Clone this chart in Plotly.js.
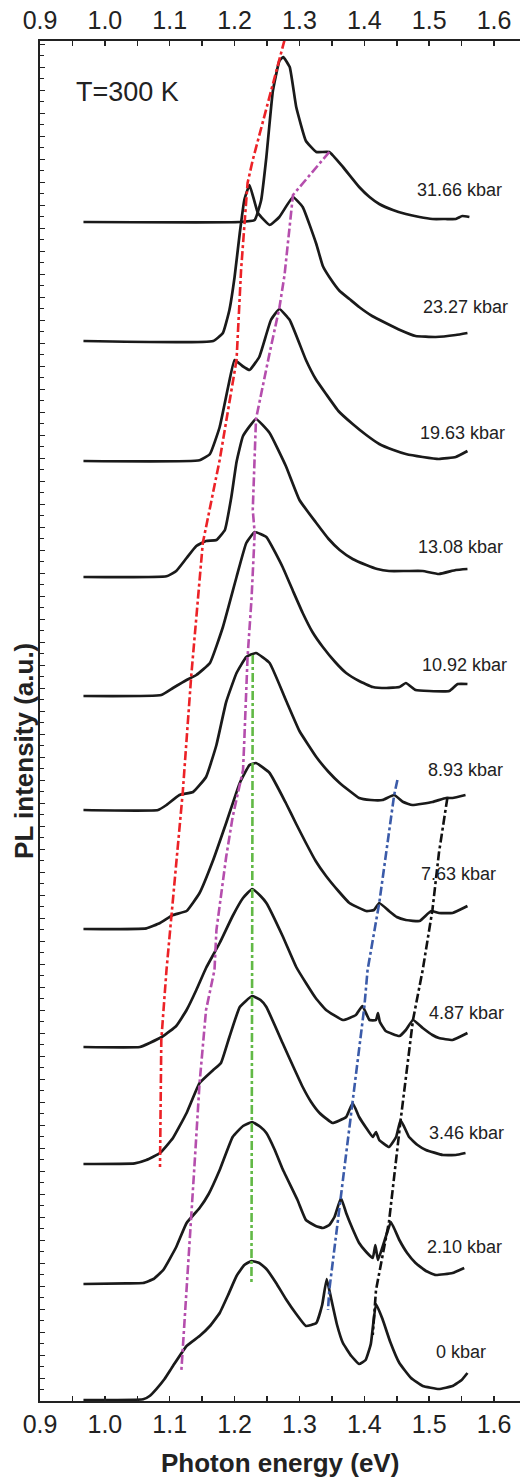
<!DOCTYPE html>
<html>
<head>
<meta charset="utf-8">
<script src="https://cdn.plot.ly/plotly-3.0.1.min.js"></script>
<style>html,body{margin:0;padding:0;background:#fff;}#chart{width:521px;height:1477px;}</style>
</head>
<body>
<div id="chart"></div>
<script>
// Pressure labels (bottom to top)
const pressures = ["0 kbar","2.10 kbar","3.46 kbar","4.87 kbar","7.63 kbar","8.93 kbar","10.92 kbar","13.08 kbar","19.63 kbar","23.27 kbar","31.66 kbar"];
// vertical offsets of each spectrum (a.u.)
const offsets = [1,117,237,354,472,591,705,824,940,1060,1179];

// Spectra: photon energy (eV) and PL intensity (a.u.)
const e0 = [0.967,1.059,1.069,1.079,1.092,1.105,1.126,1.146,1.162,1.177,1.190,1.203,1.215,1.226,1.238,1.249,1.264,1.279,1.295,1.310,1.326,1.335,1.342,1.349,1.358,1.367,1.380,1.392,1.402,1.410,1.418,1.428,1.440,1.454,1.472,1.490,1.515,1.536,1.550,1.559];
const i0 = [0,0.7,4,10.7,21,34,54,64,74,87,105,124,135,139,137,131,117,101,86,74,77,95,121,101,75,57,44,36,40,56,96,81,58,37,22,14,11,14,20,27];

const e1 = [0.967,1.033,1.059,1.075,1.090,1.110,1.126,1.146,1.160,1.177,1.197,1.213,1.227,1.240,1.249,1.262,1.274,1.297,1.310,1.325,1.336,1.346,1.354,1.364,1.372,1.382,1.392,1.403,1.413,1.417,1.421,1.433,1.441,1.454,1.466,1.479,1.495,1.510,1.536,1.554];
const i1 = [0,0.7,1,5,14,37,61,76,90,114,147,158,162,157,151,134,115,84,64,58,56,59,67,86,71,55,41,32,26,39,24,47,62,44,31,21,13,9,11,16];

const e2 = [0.967,1.046,1.064,1.085,1.105,1.126,1.146,1.167,1.179,1.192,1.208,1.227,1.240,1.249,1.274,1.290,1.305,1.318,1.331,1.351,1.372,1.382,1.392,1.403,1.413,1.418,1.423,1.438,1.449,1.456,1.469,1.482,1.495,1.521,1.541,1.556];
const i2 = [0,0.7,4,11,26,51,81,94,101,127,157,168,164,157,121,98,77,62,51,41,47,61,47,36,27,32,24,17,27,44,27,19,14,9,9,11];

const e3 = [0.967,1.054,1.069,1.090,1.110,1.126,1.141,1.156,1.177,1.197,1.213,1.227,1.240,1.249,1.274,1.295,1.310,1.325,1.341,1.367,1.387,1.397,1.408,1.418,1.421,1.424,1.433,1.454,1.464,1.475,1.490,1.505,1.515,1.536,1.559];
const i3 = [0,0,4,11,21,37,57,79,104,131,149,158,151,144,111,80,64,49,37,27,32,41,27,27,34,25,16,11,17,27,19,12,9,7,14];

const e4 = [0.967,1.064,1.085,1.105,1.126,1.146,1.167,1.187,1.208,1.223,1.233,1.254,1.279,1.295,1.310,1.325,1.341,1.360,1.377,1.403,1.415,1.423,1.438,1.450,1.464,1.485,1.503,1.515,1.536,1.559];
const i4 = [0,0.7,6,14,18,36,69,106,146,164,166,156,126,105,86,68,53,38,26,18,19,26,18,12,9,8,18,16,16,23];

const e5 = [0.967,1.082,1.095,1.115,1.136,1.156,1.172,1.187,1.203,1.218,1.233,1.254,1.279,1.300,1.326,1.345,1.362,1.392,1.410,1.428,1.446,1.460,1.474,1.505,1.526,1.536,1.556];
const i5 = [0,0,5,15,18,33,65,108,137,153,157,147,110,79,53,38,27,12,10,10,15,8,5,8,12,12,15];

const e6 = [0.967,1.087,1.105,1.126,1.141,1.162,1.182,1.203,1.218,1.231,1.249,1.274,1.290,1.305,1.320,1.336,1.355,1.372,1.392,1.413,1.434,1.454,1.464,1.479,1.500,1.531,1.544,1.559];
const i6 = [0,1,8,16,21,33,69,119,153,164,159,129,105,83,64,49,34,23,15,9,8,9,13,6,5,5,12,12];

const e7 = [0.967,1.095,1.110,1.126,1.141,1.156,1.172,1.185,1.195,1.203,1.213,1.233,1.254,1.279,1.300,1.326,1.345,1.362,1.382,1.403,1.420,1.438,1.465,1.490,1.515,1.541,1.559];
const i7 = [0,0.7,6,19,31,36,37,47,80,115,141,158,144,111,77,54,38,27,18,12,8,6,6,6,3,7,8];

const e8 = [0.967,1.146,1.162,1.177,1.190,1.200,1.212,1.223,1.238,1.256,1.269,1.285,1.310,1.325,1.341,1.360,1.382,1.403,1.423,1.445,1.464,1.490,1.515,1.541,1.559];
const i8 = [0,0.7,7,34,74,101,95,91,104,141,152,141,101,82,67,50,37,26,17,11,7,4,2,4,10];

const e9 = [0.967,1.167,1.182,1.192,1.200,1.208,1.215,1.223,1.236,1.254,1.269,1.290,1.305,1.326,1.336,1.346,1.362,1.377,1.392,1.412,1.433,1.455,1.479,1.510,1.541,1.559];
const i9 = [0,0,8,31,64,108,141,156,128,116,124,144,134,97,75,64,50,42,34,25,18,11,5,4,6,8];

const e10 = [0.967,1.208,1.231,1.241,1.249,1.259,1.269,1.275,1.285,1.295,1.310,1.326,1.346,1.367,1.392,1.408,1.423,1.444,1.464,1.485,1.505,1.525,1.541,1.551,1.562];
const i10 = [0,0,2,22,65,131,161,165,155,115,81,70,70,55,35,25,18,12,8,5,3,3,3,6,5];

const energies = [e0,e1,e2,e3,e4,e5,e6,e7,e8,e9,e10];
const intens = [i0,i1,i2,i3,i4,i5,i6,i7,i8,i9,i10];

// Guide lines (peak tracking), energy (eV) vs offset intensity
const redE = [1.277,1.228,1.220,1.210,1.203,1.177,1.151,1.133,1.120,1.103,1.095,1.087,1.085];
const redY = [1361,1241,1218,1131,1041,941,858,724,608,484,431,361,234];
const magE = [1.346,1.290,1.277,1.269,1.254,1.233,1.228,1.231,1.226,1.220,1.215,1.213,1.197,1.187,1.172,1.169,1.156,1.146,1.138,1.133,1.120,1.118];
const magY = [1249,1206,1126,1093,1048,982,891,868,801,744,661,631,584,544,471,431,391,318,234,184,51,31];
const grnE = [1.228,1.227,1.226];
const grnY = [746,431,119];
const bluE = [1.451,1.446,1.423,1.405,1.400,1.382,1.364,1.346,1.344];
const bluY = [621,606,498,431,394,298,204,111,91];
const blkE = [1.528,1.515,1.505,1.490,1.475,1.456,1.438,1.418,1.413];
const blkY = [603,548,491,431,381,281,179,111,66];

// label anchor points
const labelE = [1.549,1.554,1.558,1.558,1.545,1.556,1.554,1.549,1.551,1.556,1.546];
const labelY = [49,154,268,388,527,631,736,854,968,1094,1211];

const FONT = "Liberation Sans, Arial, Helvetica, sans-serif";
const traces = [];
for (let k = 0; k < energies.length; k++) {
  traces.push({
    x: energies[k],
    y: intens[k].map(v => v + offsets[k]),
    mode: 'lines', type: 'scatter', hoverinfo: 'skip',
    line: {color: '#1a1a1a', width: 2.7, shape: 'spline', smoothing: 0.35}
  });
}
const guides = [[redE,redY,'#ec2227'],[magE,magY,'#b54ead'],[grnE,grnY,'#62b946'],[bluE,bluY,'#3b5ba9'],[blkE,blkY,'#111111']];
guides.forEach(g => traces.push({
  x: g[0], y: g[1], mode: 'lines', type: 'scatter', hoverinfo: 'skip',
  line: {color: g[2], width: 2.6, dash: 'dashdot'}
}));
// dummy trace to enable the top axis
traces.push({x: [0.9, 1.6], y: [null, null], xaxis: 'x2', yaxis: 'y', mode: 'lines', showlegend: false, hoverinfo: 'skip'});

const annotations = pressures.map((p, k) => ({
  x: labelE[k], y: labelY[k], xref: 'x', yref: 'y', text: p, showarrow: false,
  font: {family: FONT, size: 18, color: '#222'}, xanchor: 'center', yanchor: 'middle'
}));
annotations.push({x: 1.035, y: 1309, xref: 'x', yref: 'y', text: 'T=300 K', showarrow: false,
  font: {family: FONT, size: 27, color: '#222'}, xanchor: 'center', yanchor: 'middle'});
annotations.push({x: 0.5, y: -0.0456, xref: 'paper', yref: 'paper', text: '<b>Photon energy (eV)</b>', showarrow: false,
  font: {family: FONT, size: 26, color: '#222'}, xanchor: 'center', yanchor: 'middle'});
annotations.push({x: -0.0333, y: 0.478, xref: 'paper', yref: 'paper', text: '<b>PL intensity (a.u.)</b>', showarrow: false,
  textangle: -90, font: {family: FONT, size: 26, color: '#222'}, xanchor: 'center', yanchor: 'middle'});

const xcommon = {
  range: [0.9, 1.64], showline: true, linecolor: '#222', linewidth: 2,
  ticks: 'inside', ticklen: 5, tickwidth: 1.5, tickcolor: '#222',
  dtick: 0.1, tick0: 0.9, tickformat: '.1f',
  tickfont: {family: FONT, size: 25, color: '#222'},
  minor: {dtick: 0.05, ticks: 'inside', ticklen: 5, tickwidth: 1.5, tickcolor: '#222'},
  showgrid: false, zeroline: false, fixedrange: true
};
const layout = {
  width: 521, height: 1477,
  margin: {l: 40, r: 1, t: 41, b: 76},
  paper_bgcolor: '#fff', plot_bgcolor: '#fff',
  showlegend: false,
  xaxis: Object.assign({}, xcommon, {side: 'bottom', anchor: 'y'}),
  xaxis2: Object.assign({}, xcommon, {side: 'top', overlaying: 'x', anchor: 'y'}),
  yaxis: {
    range: [0, 1360], showline: true, linecolor: '#222', linewidth: 2,
    ticks: 'inside', ticklen: 5, tickwidth: 1, tickcolor: '#222',
    tickmode: 'linear', dtick: 23, tick0: 0, showticklabels: false,
    minor: {dtick: 11.5, tick0: 0, ticks: 'inside', ticklen: 3.5, tickwidth: 1, tickcolor: '#222'},
    showgrid: false, zeroline: false, fixedrange: true
  },
  annotations: annotations
};
Plotly.newPlot('chart', traces, layout, {staticPlot: true, displayModeBar: false});
</script>
</body>
</html>
